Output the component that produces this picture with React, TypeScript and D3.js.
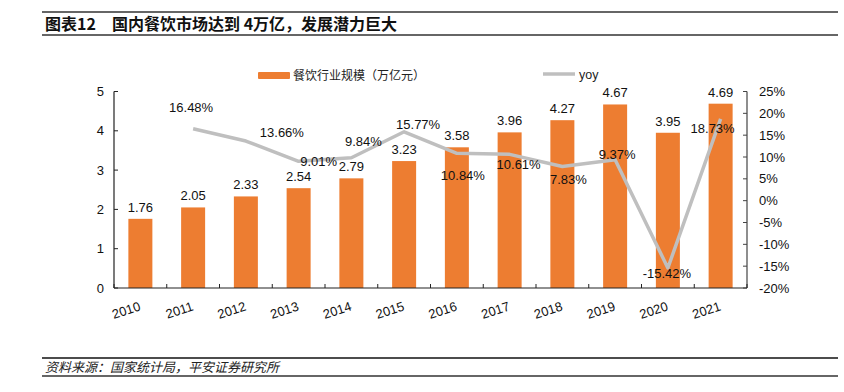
import React from 'react'
import * as d3 from 'd3'

// 餐饮行业规模（万亿元）与同比增速
const YEARS = ['2010', '2011', '2012', '2013', '2014', '2015', '2016', '2017', '2018', '2019', '2020', '2021']
const SCALE = [1.76, 2.05, 2.33, 2.54, 2.79, 3.23, 3.58, 3.96, 4.27, 4.67, 3.95, 4.69]
const YOY_YEARS = ['2011', '2012', '2013', '2014', '2015', '2016', '2017', '2018', '2019', '2020', '2021']
const YOY = [16.48, 13.66, 9.01, 9.84, 15.77, 10.84, 10.61, 7.83, 9.37, -15.42, 18.73]
const LEFT_TICKS = [0, 1, 2, 3, 4, 5]
const RIGHT_TICKS = [-20, -15, -10, -5, 0, 5, 10, 15, 20, 25]

// label nudges for the yoy labels (dx, dy from the point), as placed in the original
const YOY_LABEL_OFFSET = [
  [-2, -21], [36, -9], [20, 0], [12, -16], [14, -7], [6, 22],
  [9, 10], [6, 13], [2, -5], [-1, 5], [-8, 10],
]

const W = 844
const H = 392
const LEFT = 114
const RIGHT = 747
const BOTTOM = 288
const TOP = 91.5

const ORANGE = '#ED7D31'
const GREY = '#BFBFBF'
const FONT = '"Liberation Sans", Arial, "Noto Sans CJK SC", sans-serif'
const CJK = '"Noto Sans CJK SC", "Liberation Sans", sans-serif'

export default function App() {
  const x = d3.scaleBand<string>().domain(YEARS).range([LEFT, RIGHT]).padding(0)
  const yL = d3.scaleLinear().domain([0, 5]).range([BOTTOM, TOP])
  const yR = d3.scaleLinear().domain([-20, 25]).range([BOTTOM, TOP])
  const barW = x.bandwidth() * 0.455
  const cx = (yr: string) => (x(yr) as number) + x.bandwidth() / 2

  const line = d3.line<number>()
    .x((_, i) => cx(YOY_YEARS[i]))
    .y(d => yR(d))

  const bounds = YEARS.map(y => x(y) as number).concat([RIGHT])

  return (
    <div style={{ position: 'absolute', left: 0, top: 0 }}>
      <svg width={W} height={H} style={{ display: 'block', background: '#fff' }}>
        {/* title */}
        <line x1={42} x2={838} y1={12} y2={12} stroke="#333" strokeWidth={1.5} />
        <line x1={42} x2={838} y1={35} y2={35} stroke="#333" strokeWidth={1.5} />
        <text x={45} y={30} fontFamily={CJK} fontSize={16} fontWeight="bold" fill="#111">
          图表12
        </text>
        <text x={112} y={30} fontFamily={CJK} fontSize={16} fontWeight="bold" fill="#111">
          国内餐饮市场达到 4万亿，发展潜力巨大
        </text>

        {/* legend */}
        <rect x={258} y={72} width={32} height={7} fill={ORANGE} rx={1} />
        <text x={293} y={80} fontFamily={CJK} fontSize={12} fill="#222">餐饮行业规模（万亿元）</text>
        <line x1={543} x2={575} y1={74} y2={74} stroke={GREY} strokeWidth={3.5} />
        <text x={579} y={78.5} fontFamily={FONT} fontSize={12.5} fill="#222">yoy</text>

        {/* bars */}
        {YEARS.map((yr, i) => (
          <rect key={yr} x={cx(yr) - barW / 2} y={yL(SCALE[i])} width={barW}
            height={BOTTOM - yL(SCALE[i])} fill={ORANGE} />
        ))}
        {YEARS.map((yr, i) => (
          <text key={'b' + yr} x={cx(yr)} y={yL(SCALE[i]) - 7} textAnchor="middle"
            fontFamily={FONT} fontSize={13} fill="#111">{SCALE[i].toFixed(2)}</text>
        ))}

        {/* yoy line */}
        <path d={line(YOY) || ''} fill="none" stroke={GREY} strokeWidth={3.5} strokeLinejoin="round" />
        {YOY.map((v, i) => (
          <text key={'y' + i} x={cx(YOY_YEARS[i]) + YOY_LABEL_OFFSET[i][0]}
            y={yR(v) + YOY_LABEL_OFFSET[i][1] + 4.5} textAnchor="middle"
            fontFamily={FONT} fontSize={13} fill="#111">{v.toFixed(2)}%</text>
        ))}

        {/* axes */}
        <line x1={LEFT} x2={LEFT} y1={TOP} y2={BOTTOM} stroke="#222" strokeWidth={1.2} />
        <line x1={RIGHT} x2={RIGHT} y1={TOP} y2={BOTTOM} stroke="#444" strokeWidth={1.2} />
        <line x1={LEFT} x2={RIGHT} y1={BOTTOM} y2={BOTTOM} stroke="#222" strokeWidth={1.2} />
        {LEFT_TICKS.map(t => (
          <g key={'l' + t}>
            <line x1={LEFT} x2={LEFT + 4} y1={yL(t)} y2={yL(t)} stroke="#222" />
            <text x={104} y={yL(t) + 4.5} textAnchor="end" fontFamily={FONT} fontSize={13} fill="#111">{t}</text>
          </g>
        ))}
        {RIGHT_TICKS.map(t => (
          <g key={'r' + t}>
            <line x1={RIGHT - 4} x2={RIGHT} y1={yR(t)} y2={yR(t)} stroke="#444" />
            <text x={759} y={yR(t) + 4.5} fontFamily={FONT} fontSize={13} fill="#111">{t}%</text>
          </g>
        ))}
        {bounds.map((b, i) => (
          <line key={'t' + i} x1={b} x2={b} y1={BOTTOM} y2={BOTTOM - 4} stroke="#222" />
        ))}
        {YEARS.map(yr => (
          <text key={'x' + yr} transform={`translate(${cx(yr) + 1},${310}) rotate(-18)`}
            textAnchor="end" fontFamily={FONT} fontSize={13} fill="#111">{yr}</text>
        ))}

        {/* source */}
        <line x1={42} x2={838} y1={358} y2={358} stroke="#111" strokeWidth={1.5} />
        <line x1={42} x2={838} y1={376} y2={376} stroke="#333" strokeWidth={1.5} />
        <text x={45} y={372} fontFamily={CJK} fontSize={13} fontStyle="italic" fill="#222">
          资料来源：国家统计局，平安证券研究所
        </text>
      </svg>
    </div>
  )
}
